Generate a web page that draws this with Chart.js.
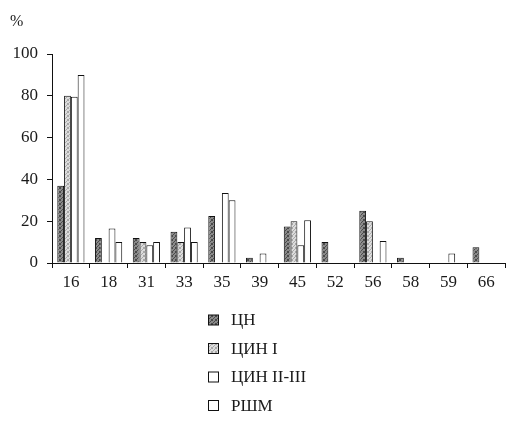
<!DOCTYPE html>
<html>
<head>
<meta charset="utf-8">
<script src="https://cdn.jsdelivr.net/npm/chart.js@4/dist/chart.umd.min.js"></script>
<style>
    html, body { margin: 0; padding: 0; background: #fff; }
    #wrap { width: 524px; height: 432px; position: relative; }
</style>
</head>
<body>
<div id="wrap"><canvas id="chart"></canvas></div>
<script>
// data
const categories = ['16', '18', '31', '33', '35', '39', '45', '52', '56', '58', '59', '66'];
const seriesNames = ['ЦН', 'ЦИН I', 'ЦИН II-III', 'РШМ'];
const cnValues    = [37, 12, 12, 15, 22.5, 2.5, 17.5, 10, 25, 2.5, 0, 7.5];
const cin1Values  = [80, 0, 10, 10, 0, 0, 20, 0, 20, 0, 0, 0];
const cin23Values = [79.5, 16.5, 8.5, 17, 33.5, 4.5, 8.5, 0, 0, 0, 4.5, 0];
const rshmValues  = [90, 10, 10, 10, 30, 0, 20.5, 0, 10.5, 0, 0, 0];
const yTicks = [0, 20, 40, 60, 80, 100];

// stipple patterns like the print shading
function makePattern(base, dot) {
    const c = document.createElement('canvas');
    c.width = 4;
    c.height = 4;
    const ctx = c.getContext('2d');
    ctx.fillStyle = base;
    ctx.fillRect(0, 0, 4, 4);
    ctx.fillStyle = dot;
    [[0, 0], [2, 1], [1, 2], [3, 3], [3, 0], [0, 3]].forEach(p => ctx.fillRect(p[0], p[1], 1, 1));
    return ctx.createPattern(c, 'repeat');
}

const fills = [
    makePattern('#8a8a8a', '#4a4a4a'),
    makePattern('#dcdcdc', '#a8a8a8'),
    '#ffffff',
    '#ffffff'
];

const values = [cnValues, cin1Values, cin23Values, rshmValues];
const serif = '"Liberation Serif", "Times New Roman", serif';

const extras = {
    id: 'extras',
    afterDraw(chart) {
        const ctx = chart.ctx;
        ctx.save();
        ctx.fillStyle = '#1a1a1a';
        ctx.font = '16px ' + serif;
        ctx.textBaseline = 'middle';
        ctx.textAlign = 'left';
        ctx.fillText('%', 10, 22);

        // vertical legend under the axis
        chart.data.datasets.forEach((ds, i) => {
            const y = 320 + i * 28.5;
            ctx.fillStyle = ds.backgroundColor;
            ctx.fillRect(208.5, y - 5, 10, 10);
            ctx.strokeStyle = '#111';
            ctx.lineWidth = 1;
            ctx.strokeRect(208.5, y - 5, 10, 10);
            ctx.fillStyle = '#1a1a1a';
            ctx.font = '17px ' + serif;
            ctx.fillText(ds.label, 231, y + 1);
        });
        ctx.restore();
    }
};

new Chart(document.getElementById('chart'), {
    type: 'bar',
    data: {
        labels: categories,
        datasets: seriesNames.map((name, i) => ({
            label: name,
            data: values[i],
            backgroundColor: fills[i],
            borderColor: '#111',
            borderWidth: 1,
            borderSkipped: 'bottom',
            barPercentage: 1.0,
            categoryPercentage: 0.72
        }))
    },
    options: {
        responsive: true,
        maintainAspectRatio: false,
        animation: false,
        layout: {
            padding: { left: 0, top: 54, right: 19, bottom: 129 }
        },
        scales: {
            x: {
                offset: true,
                grid: {
                    offset: true,
                    drawOnChartArea: false,
                    drawTicks: true,
                    tickLength: 5,
                    color: '#111'
                },
                border: { display: true, color: '#111', width: 1 },
                ticks: {
                    color: '#1a1a1a',
                    font: { family: serif, size: 17 },
                    padding: 4,
                    maxRotation: 0
                },
                afterFit(scale) { scale.height = 40; }
            },
            y: {
                min: 0,
                max: 100,
                afterBuildTicks(scale) {
                    scale.ticks = yTicks.map(v => ({ value: v }));
                },
                grid: {
                    drawOnChartArea: false,
                    drawTicks: true,
                    tickLength: 5,
                    color: '#111'
                },
                border: { display: true, color: '#111', width: 1 },
                ticks: {
                    color: '#1a1a1a',
                    font: { family: serif, size: 17 },
                    padding: 9
                },
                afterFit(scale) { scale.width = 52; }
            }
        },
        plugins: {
            legend: { display: false },
            tooltip: { enabled: false }
        }
    },
    plugins: [extras]
});
</script>
</body>
</html>
